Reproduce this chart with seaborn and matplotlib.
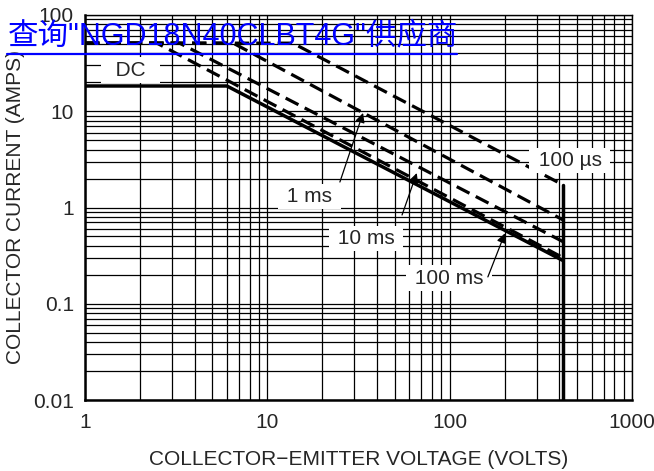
import numpy as np
import matplotlib
matplotlib.use("Agg")
import matplotlib.pyplot as plt
from matplotlib.lines import Line2D
from matplotlib.ticker import FixedLocator, FixedFormatter, LogLocator, NullFormatter
import pandas as pd
import seaborn as sns

# safe operating area, collector-emitter voltage (V) vs collector current (A)
v_dc = [1, 6.0, 420]
i_dc = [18.3, 18.3, 0.28]
v_100ms = [1, 2.48, 420]
i_100ms = [51, 51, 0.30]
v_10ms = [1, 3.3, 420]
i_10ms = [51, 51, 0.44]
v_1ms = [1, 6.5, 420]
i_1ms = [51, 51, 0.74]
v_100us = [1, 13.8, 420]
i_100us = [51, 51, 1.71]
v_clamp = [420, 420]
i_clamp = [0.01, 1.71]

x_ticks = [1, 10, 100, 1000]
x_tick_labels = ["1", "10", "100", "1000"]
y_ticks = [0.01, 0.1, 1, 10, 100]
y_tick_labels = ["0.01", "0.1", "1", "10", "100"]

sns.set_style("white")
plt.rcParams['font.family'] = ['Liberation Sans', 'Noto Sans CJK SC', 'DejaVu Sans']

fig = plt.figure(figsize=(6.54, 4.71), dpi=100)
ax = fig.add_axes([85/654, 1 - 400/471, (632 - 85)/654, (400 - 15)/471])
ax.set_xscale("log")
ax.set_yscale("log")
ax.set_xlim(1, 1000)
ax.set_ylim(0.01, 100)

# grid like the datasheet paper
ax.xaxis.set_minor_locator(LogLocator(base=10, subs=np.arange(2, 10)))
ax.yaxis.set_minor_locator(LogLocator(base=10, subs=np.arange(2, 10)))
ax.xaxis.set_minor_formatter(NullFormatter())
ax.yaxis.set_minor_formatter(NullFormatter())
ax.grid(which="both", color="black", lw=0.9)
ax.set_axisbelow(True)

dash = (0, (4.5, 2.2))
sns.lineplot(x=v_dc, y=i_dc, ax=ax, estimator=None, sort=False, color="black", lw=2.5, zorder=3)
sns.lineplot(x=v_100ms, y=i_100ms, ax=ax, estimator=None, sort=False, color="black", lw=2.3, linestyle=dash, zorder=3)
sns.lineplot(x=v_10ms, y=i_10ms, ax=ax, estimator=None, sort=False, color="black", lw=2.3, linestyle=dash, zorder=3)
sns.lineplot(x=v_1ms, y=i_1ms, ax=ax, estimator=None, sort=False, color="black", lw=2.3, linestyle=dash, zorder=3)
sns.lineplot(x=v_100us, y=i_100us, ax=ax, estimator=None, sort=False, color="black", lw=2.3, linestyle=dash, zorder=3)
sns.lineplot(x=v_clamp, y=i_clamp, ax=ax, estimator=None, sort=False, color="black", lw=2.5, zorder=3)

ax.xaxis.set_major_locator(FixedLocator(x_ticks))
ax.xaxis.set_major_formatter(FixedFormatter(x_tick_labels))
ax.yaxis.set_major_locator(FixedLocator(y_ticks))
ax.yaxis.set_major_formatter(FixedFormatter(y_tick_labels))
ax.tick_params(which="both", length=0, labelsize=15)
ax.tick_params(axis="x", pad=9)
ax.tick_params(axis="y", pad=8)

for side in ["left", "bottom"]:
    ax.spines[side].set_linewidth(1.8)
for side in ["top", "right"]:
    ax.spines[side].set_linewidth(1.0)
for s in ax.spines.values():
    s.set_color("black")

ax.set_xlabel("COLLECTOR\u2212EMITTER VOLTAGE (VOLTS)", fontsize=15, labelpad=13)
ax.set_ylabel("COLLECTOR CURRENT (AMPS)", fontsize=15, labelpad=6)

box = dict(facecolor="white", edgecolor="none", boxstyle="square,pad=0.15")
ax.text(1.77, 26.8, "  DC  ", ha="center", va="center", fontsize=15, bbox=box, zorder=4)
ax.text(457, 3.1, " 100 \u00b5s ", ha="center", va="center", fontsize=15, bbox=box, zorder=4)
ax.text(17.1, 1.29, " 1 ms ", ha="center", va="center", fontsize=15, bbox=box, zorder=4)
ax.text(34.8, 0.48, " 10 ms ", ha="center", va="center", fontsize=15, bbox=box, zorder=4)
ax.text(99, 0.185, " 100 ms ", ha="center", va="center", fontsize=15, bbox=box, zorder=4)

arrow = dict(arrowstyle="-|>", color="black", lw=0.9, mutation_scale=14, shrinkA=0, shrinkB=0)
ax.annotate("", xy=(33.5, 9.6), xytext=(25, 1.84), arrowprops=arrow, zorder=5)
ax.annotate("", xy=(66, 2.28), xytext=(54.8, 0.836), arrowprops=arrow, zorder=5)
ax.annotate("", xy=(201, 0.54), xytext=(162, 0.19), arrowprops=arrow, zorder=5)

# blue link banner across the top
fig.text(8/654, 1 - 44/471, "查询\"NGD18N40CLBT4G\"供应商", color="#0000ff", fontsize=22,
         ha="left", va="baseline")
fig.add_artist(Line2D([7/654, 457/654], [1 - 54/471, 1 - 54/471], color="#0000ff", lw=1.6))

fig.savefig("out.png", dpi=100)
